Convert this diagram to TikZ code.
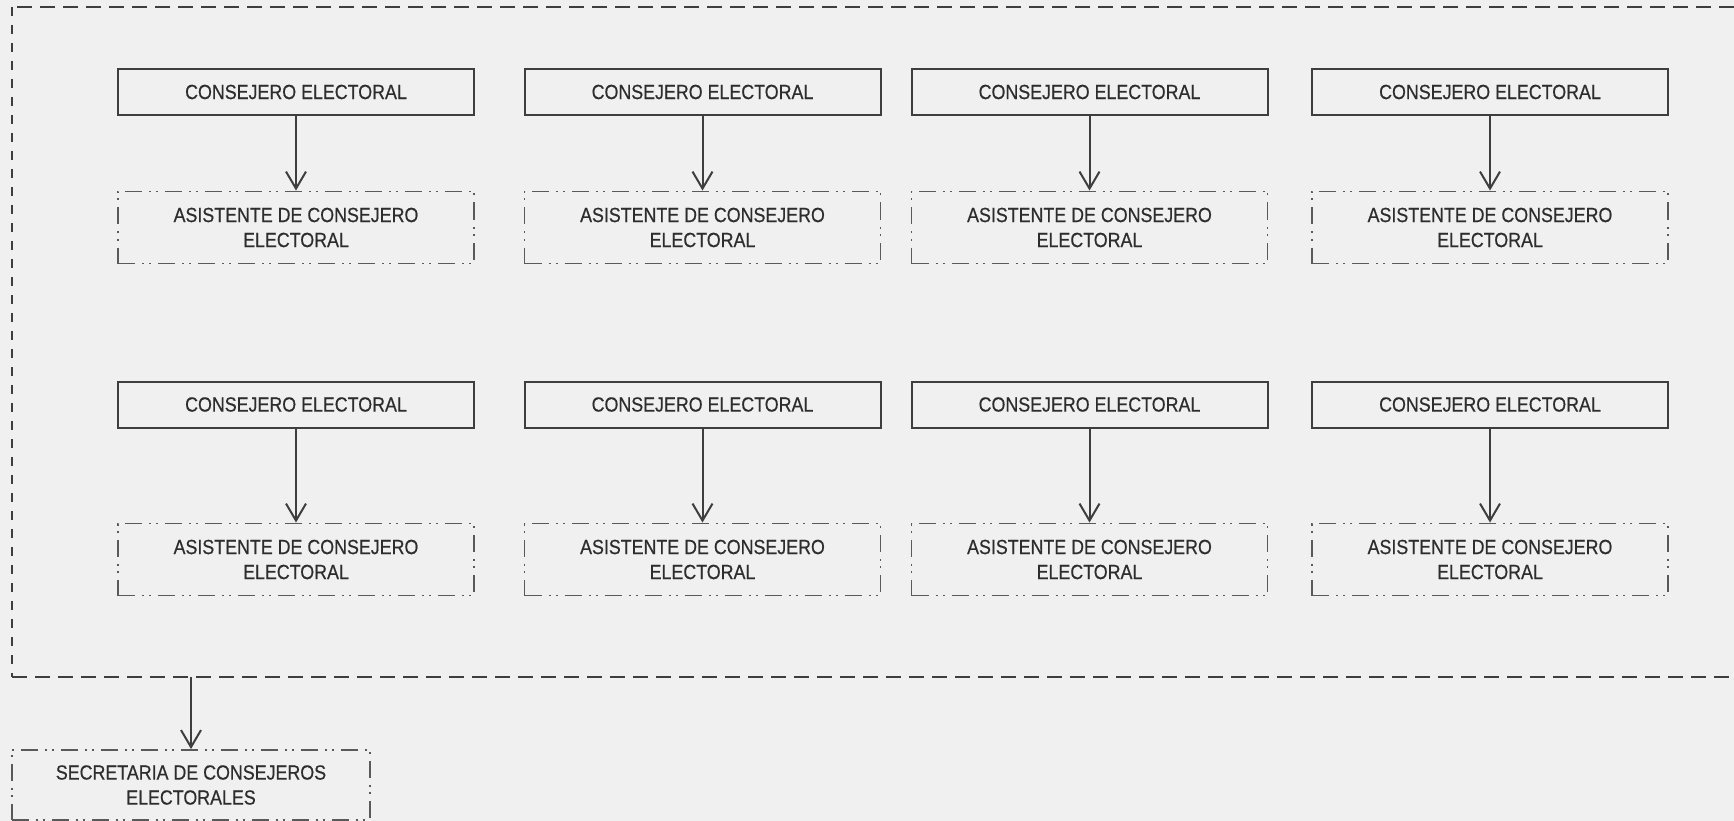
\documentclass[tikz,border=0pt]{standalone}
\usepackage{fontspec}
\setmainfont[FakeStretch=0.87,FakeBold=0.5]{Liberation Sans}
\usetikzlibrary{arrows.meta}
\definecolor{paper}{RGB}{240,240,240}
\definecolor{ink}{RGB}{62,62,62}
\definecolor{inkl}{RGB}{90,90,90}
\definecolor{txt}{RGB}{45,45,45}
\begin{document}
\begin{tikzpicture}[x=1pt,y=-1pt,
  lbl/.style={font=\fontsize{20.5}{25}\selectfont, text=txt, align=center, inner sep=0pt},
  cons/.style={lbl, draw=ink, line width=2pt, minimum width=356pt, minimum height=46pt},
  asis/.style={lbl, draw=inkl, line width=1.9pt, dash pattern=on 17pt off 7pt on 2pt off 5pt on 2pt off 7pt, minimum width=356pt, minimum height=72pt},
  link/.style={draw=ink, line width=2pt, -{Straight Barb[length=17pt,width=20pt,line width=2pt]}},
  frameh/.style={draw=ink, line width=2.2pt, dash pattern=on 15pt off 8pt},
  framev/.style={draw=ink, line width=2.2pt, dash pattern=on 9pt off 9pt}
]
\useasboundingbox[fill=paper] (0,0) rectangle (1734,821);

% outer container
\draw[frameh] (1734,7) -- (12,7);
\draw[framev] (12,7) -- (12,677);
\draw[frameh] (12,677) -- (1734,677);
\coordinate (fb) at (191,677);

\foreach \i/\x in {1/296,2/702.5,3/1089.5,4/1490}{
  \node[cons] (c\i) at (\x,92) {CONSEJERO ELECTORAL};
  \node[asis] (a\i) at (\x,227.5) {ASISTENTE DE CONSEJERO\\ELECTORAL};
  \draw[link] (c\i) -- (a\i);
}
\foreach \i/\x in {5/296,6/702.5,7/1089.5,8/1490}{
  \node[cons] (c\i) at (\x,404.5) {CONSEJERO ELECTORAL};
  \node[asis] (a\i) at (\x,559.5) {ASISTENTE DE CONSEJERO\\ELECTORAL};
  \draw[link] (c\i) -- (a\i);
}

\node[asis, minimum width=358pt, minimum height=70pt] (sec) at (191,785) {SECRETARIA DE CONSEJEROS\\ELECTORALES};
\draw[link] (fb) -- (sec);
\end{tikzpicture}
\end{document}
